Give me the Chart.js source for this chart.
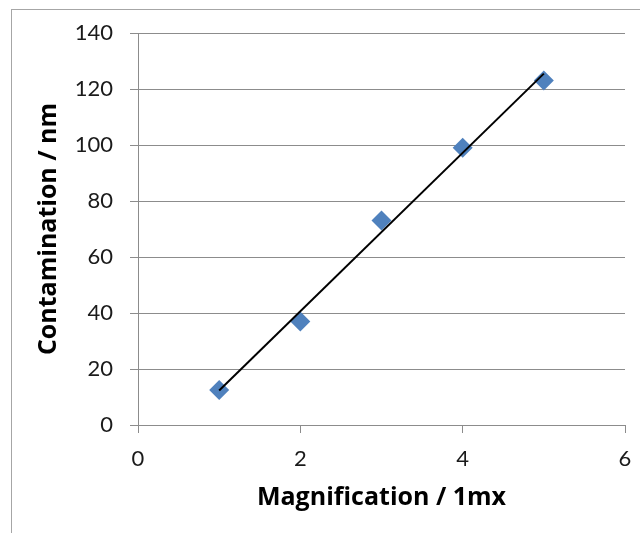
<!DOCTYPE html>
<html lang="en">
<head>
    <meta charset="UTF-8">
    <title>Contamination vs Magnification</title>
    <script src="https://cdn.jsdelivr.net/npm/chart.js"></script>
</head>
<style>
    body {
        margin: 0;
        background: #fff;
    }
</style>
<body>
<canvas id="chart" width="640" height="533"></canvas>
<script>
    // data
    var magnification = [1, 2, 3, 4, 5];
    var contamination = [12.5, 37, 73, 99, 123];

    var xRange = [0, 6], xStep = 2;
    var yRange = [0, 140], yStep = 20;

    // linear trendline (least squares), drawn across the data range
    function fitLine(xs, ys) {
        var n = xs.length, mx = 0, my = 0;
        for (var i = 0; i < n; i++) { mx += xs[i]; my += ys[i]; }
        mx /= n; my /= n;
        var sxy = 0, sxx = 0;
        for (var i = 0; i < n; i++) {
            sxy += (xs[i] - mx) * (ys[i] - my);
            sxx += (xs[i] - mx) * (xs[i] - mx);
        }
        var slope = sxy / sxx;
        return { slope: slope, intercept: my - slope * mx };
    }
    var fit = fitLine(magnification, contamination);
    var xFirst = magnification[0], xLast = magnification[magnification.length - 1];
    var trend = [
        { x: xFirst, y: fit.intercept + fit.slope * xFirst },
        { x: xLast, y: fit.intercept + fit.slope * xLast }
    ];

    var points = magnification.map(function (m, i) { return { x: m, y: contamination[i] }; });

    var gridColor = '#8c8c8c';
    var textColor = '#1a1a1a';
    var fontFamily = 'Lato, "Open Sans", sans-serif';
    var titleFamily = '"Open Sans", Lato, sans-serif';

    // thin frame around the whole chart, like the spreadsheet chart box
    var frame = {
        id: 'frame',
        beforeDraw: function (chart) {
            var ctx = chart.ctx;
            ctx.save();
            ctx.strokeStyle = '#a6a6a6';
            ctx.lineWidth = 1;
            ctx.strokeRect(11.5, 9.5, 700, 600);
            ctx.restore();
        }
    };

    new Chart(document.getElementById('chart').getContext('2d'), {
        type: 'scatter',
        data: {
            datasets: [{
                label: 'Trend',
                data: trend,
                showLine: true,
                borderColor: '#000',
                borderWidth: 2,
                pointRadius: 0
            }, {
                label: 'Contamination',
                data: points,
                pointStyle: 'rectRot',
                pointRadius: 10,
                backgroundColor: '#4f81bd',
                borderColor: '#4f81bd',
                borderWidth: 0
            }]
        },
        options: {
            responsive: false,
            animation: false,
            layout: {
                padding: { top: 33, right: 15, left: 0, bottom: 0 }
            },
            plugins: {
                legend: { display: false },
                tooltip: { enabled: false }
            },
            scales: {
                x: {
                    type: 'linear',
                    min: xRange[0],
                    max: xRange[1],
                    afterFit: function (scale) {
                        scale.height = 108;
                        scale.paddingLeft = 0;
                        scale.paddingRight = 0;
                    },
                    ticks: {
                        stepSize: xStep,
                        padding: 13,
                        color: textColor,
                        font: { family: fontFamily, size: 22 }
                    },
                    grid: {
                        drawOnChartArea: false,
                        drawTicks: true,
                        tickLength: 8,
                        color: gridColor
                    },
                    border: { color: gridColor },
                    title: {
                        display: true,
                        text: 'Magnification / 1mx',
                        color: '#000',
                        font: { family: titleFamily, size: 25, weight: 'bold' },
                        padding: { top: 0, bottom: 20 }
                    }
                },
                y: {
                    min: yRange[0],
                    max: yRange[1],
                    afterFit: function (scale) {
                        scale.width = 138;
                        scale.paddingTop = 0;
                        scale.paddingBottom = 0;
                    },
                    ticks: {
                        stepSize: yStep,
                        padding: 17,
                        color: textColor,
                        font: { family: fontFamily, size: 22 }
                    },
                    grid: {
                        drawTicks: true,
                        tickLength: 8,
                        color: gridColor
                    },
                    border: { color: gridColor },
                    title: {
                        display: true,
                        text: 'Contamination / nm',
                        color: '#000',
                        font: { family: titleFamily, size: 25, weight: 'bold' },
                        padding: { top: 34, bottom: 0 }
                    }
                }
            }
        },
        plugins: [frame]
    });
</script>
</body>
</html>
